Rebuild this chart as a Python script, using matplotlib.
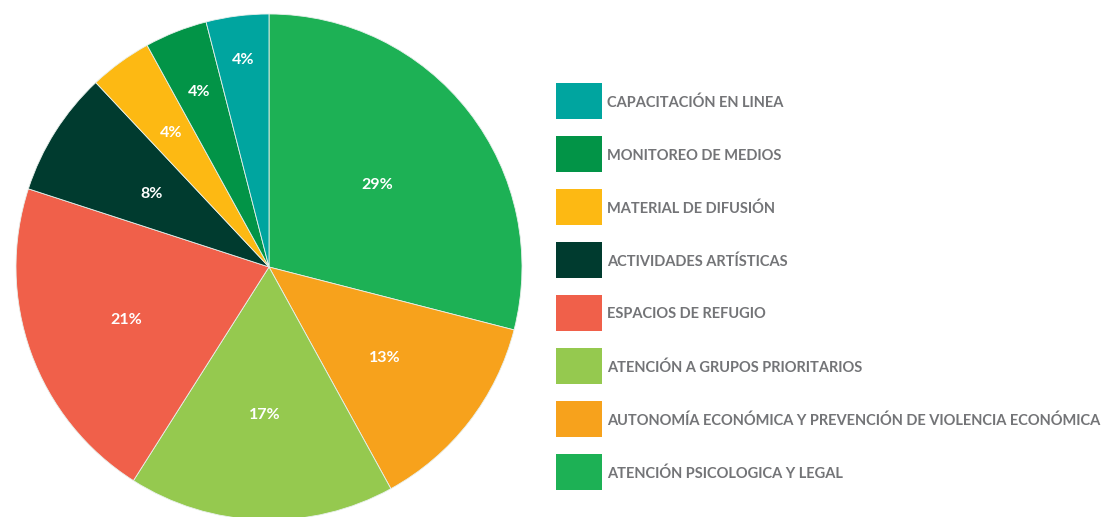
import matplotlib
matplotlib.use("Agg")
import matplotlib.pyplot as plt
from matplotlib.patches import Rectangle
import numpy as np

# datos (sentido horario desde las 12)
categorias = [
    "ATENCIÓN PSICOLOGICA Y LEGAL",
    "AUTONOMÍA ECONÓMICA Y PREVENCIÓN DE VIOLENCIA ECONÓMICA",
    "ATENCIÓN A GRUPOS PRIORITARIOS",
    "ESPACIOS DE REFUGIO",
    "ACTIVIDADES ARTÍSTICAS",
    "MATERIAL DE DIFUSIÓN",
    "MONITOREO DE MEDIOS",
    "CAPACITACIÓN EN LINEA",
]
porcentajes = [29, 13, 17, 21, 8, 4, 4, 4]
colores = ["#1db155", "#f7a21c", "#95c94f", "#f0604a",
           "#003b2f", "#fdb913", "#029447", "#00a59f"]

# distancia radial de cada etiqueta (estilo)
dist_etiquetas = [0.54, 0.58, 0.58, 0.60, 0.55, 0.66, 0.75, 0.83]

FUENTE = ["Lato", "DejaVu Sans"]

W, H = 1111, 517
fig = plt.figure(figsize=(W / 100, H / 100), dpi=100)

cx, cy, r = 269, 250, 253   # centro en px (y desde abajo)
ax = fig.add_axes([(cx - r) / W, (cy - r) / H, 2 * r / W, 2 * r / H])
wedges, _ = ax.pie(porcentajes, colors=colores, startangle=90, counterclock=False,
                   radius=1.0, wedgeprops=dict(linewidth=0.6, edgecolor="#e8f0ec"))
ax.set_xlim(-1, 1)
ax.set_ylim(-1, 1)
ax.set_aspect("equal")
ax.axis("off")

for w, p, d in zip(wedges, porcentajes, dist_etiquetas):
    ang = np.deg2rad((w.theta1 + w.theta2) / 2)
    ax.text(d * np.cos(ang), d * np.sin(ang), f"{p}%", color="white",
            fontsize=11.5, fontweight="bold", family=FUENTE,
            ha="center", va="center_baseline")

# leyenda manual (orden de arriba hacia abajo)
orden = list(range(len(categorias)))[::-1]
y0 = 517 - 101
for i, k in enumerate(orden):
    yc = y0 - i * 53
    fig.add_artist(Rectangle((556 / W, (yc - 18) / H), 46 / W, 36 / H,
                             transform=fig.transFigure, color=colores[k], lw=0))
    fig.text(607 / W, yc / H, categorias[k], color="#737477", fontsize=10.5,
             fontweight="bold", family=FUENTE, va="center_baseline", ha="left")

fig.savefig("out.png", dpi=100)
